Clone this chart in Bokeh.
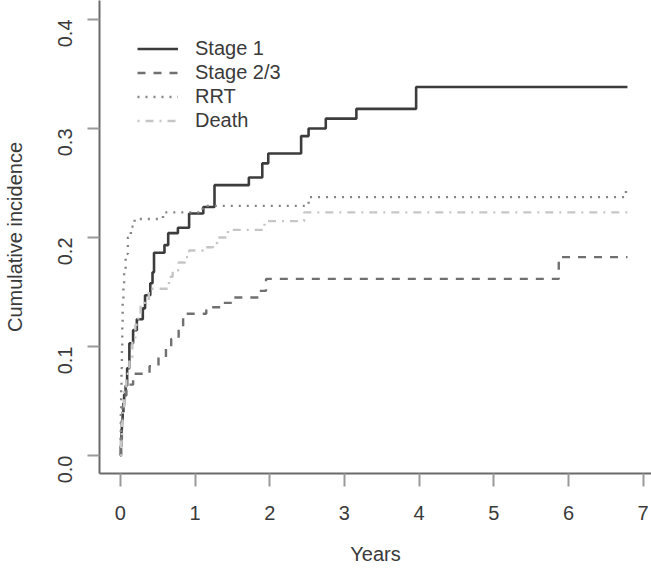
import math
from bokeh.plotting import figure
from bokeh.models import Range1d, FixedTicker, PrintfTickFormatter, Legend, LegendItem
from bokeh.embed import file_html
from bokeh.resources import INLINE

# ---- data ----
end_time = 6.79

stage1_t = [0, 0.005, 0.01, 0.015, 0.02, 0.03, 0.04, 0.05, 0.07, 0.09, 0.12, 0.17, 0.22,
            0.30, 0.33, 0.40, 0.43, 0.45, 0.59, 0.64, 0.77, 0.92, 1.11, 1.26, 1.72, 1.90,
            1.98, 2.42, 2.52, 2.75, 3.16, 3.96]
stage1_y = [0, 0.008, 0.016, 0.024, 0.032, 0.040, 0.048, 0.056, 0.064, 0.080, 0.103, 0.115,
            0.125, 0.135, 0.147, 0.158, 0.168, 0.186, 0.193, 0.204, 0.209, 0.222, 0.228,
            0.248, 0.255, 0.268, 0.277, 0.293, 0.300, 0.309, 0.318, 0.338]

stage23_t = [0, 0.01, 0.02, 0.03, 0.05, 0.08, 0.17, 0.39, 0.51, 0.61, 0.68, 0.78, 0.84,
             1.15, 1.35, 1.52, 1.85, 1.95, 5.87]
stage23_y = [0, 0.015, 0.030, 0.045, 0.055, 0.065, 0.075, 0.082, 0.090, 0.098, 0.107, 0.117,
             0.130, 0.136, 0.140, 0.145, 0.151, 0.162, 0.182]

rrt_t = [0, 0.003, 0.006, 0.01, 0.015, 0.02, 0.025, 0.03, 0.04, 0.05, 0.07, 0.10, 0.14,
         0.19, 0.57, 1.10, 2.52, 6.77]
rrt_y = [0, 0.020, 0.040, 0.060, 0.080, 0.100, 0.120, 0.140, 0.155, 0.170, 0.185, 0.200,
         0.210, 0.217, 0.223, 0.229, 0.237, 0.243]

death_t = [0, 0.01, 0.02, 0.03, 0.05, 0.08, 0.12, 0.16, 0.20, 0.24, 0.27, 0.38, 0.65, 0.70,
           0.78, 0.87, 0.92, 1.11, 1.24, 1.30, 1.44, 1.93, 2.46]
death_y = [0, 0.015, 0.030, 0.045, 0.060, 0.075, 0.090, 0.105, 0.120, 0.130, 0.140, 0.153,
           0.164, 0.170, 0.177, 0.182, 0.188, 0.191, 0.195, 0.200, 0.207, 0.215, 0.223]

series_names = ["Stage 1", "Stage 2/3", "RRT", "Death"]
x_ticks = [0, 1, 2, 3, 4, 5, 6, 7]
y_ticks = [0.0, 0.1, 0.2, 0.3, 0.4]
x_title = "Years"
y_title = "Cumulative incidence"

FONT = "Liberation Sans"

p = figure(width=651, height=571, output_backend="svg", toolbar_location=None,
           x_range=Range1d(-0.28, 7.112), y_range=Range1d(-0.0165, 0.4174),
           min_border_left=98, min_border_right=0, min_border_top=0, min_border_bottom=98)
p.outline_line_color = None
p.grid.visible = False
p.background_fill_color = "white"
p.border_fill_color = "white"

styles = [
    dict(color="#3c3c3c", width=2.6, dash="solid"),
    dict(color="#707070", width=2.4, dash="8 8"),
    dict(color="#858585", width=2.4, dash="2 6"),
    dict(color="#c6c6c6", width=2.4, dash="2 6 8 6"),
]
data = [(stage1_t, stage1_y), (stage23_t, stage23_y), (rrt_t, rrt_y), (death_t, death_y)]

renderers = []
for (t, y), st in zip(data, styles):
    xs = list(t) + [end_time]
    ys = list(y) + [y[-1]]
    r = p.step(xs, ys, mode="after", line_color=st["color"], line_width=st["width"],
               line_dash=st["dash"])
    renderers.append(r)

# axes
for ax in (p.xaxis[0], p.yaxis[0]):
    ax.axis_line_color = "#6a6a6a"
    ax.axis_line_width = 2
    ax.major_tick_line_color = "#9a9a9a"
    ax.major_tick_line_width = 2
    ax.major_tick_in = 0
    ax.minor_tick_line_color = None
    ax.major_label_text_font = FONT
    ax.major_label_text_font_size = "20px"
    ax.major_label_text_color = "#3a3a3a"
    ax.axis_label_text_font = FONT
    ax.axis_label_text_font_size = "20px"
    ax.axis_label_text_font_style = "normal"
    ax.axis_label_text_color = "#3a3a3a"

p.xaxis.ticker = FixedTicker(ticks=x_ticks)
p.xaxis.major_tick_out = 13
p.xaxis.major_label_standoff = 19
p.xaxis.axis_label = x_title
p.xaxis.axis_label_standoff = 20

p.yaxis.ticker = FixedTicker(ticks=y_ticks)
p.yaxis.formatter = PrintfTickFormatter(format="%.1f")
p.yaxis.major_tick_out = 12
p.yaxis.major_label_standoff = 22
p.yaxis.major_label_orientation = math.pi / 2
p.yaxis.axis_label = y_title
p.yaxis.axis_label_standoff = 23

legend = Legend(items=[LegendItem(label=n, renderers=[r]) for n, r in zip(series_names, renderers)],
                location=(38, 341))
legend.border_line_color = None
legend.background_fill_alpha = 0
legend.padding = 0
legend.margin = 0
legend.spacing = 1
legend.glyph_width = 41
legend.glyph_height = 21
legend.label_height = 21
legend.label_standoff = 17
legend.label_text_font = FONT
legend.label_text_font_size = "20px"
legend.label_text_color = "#3a3a3a"
p.add_layout(legend, "center")

open("out.html", "w").write(file_html(p, INLINE))
